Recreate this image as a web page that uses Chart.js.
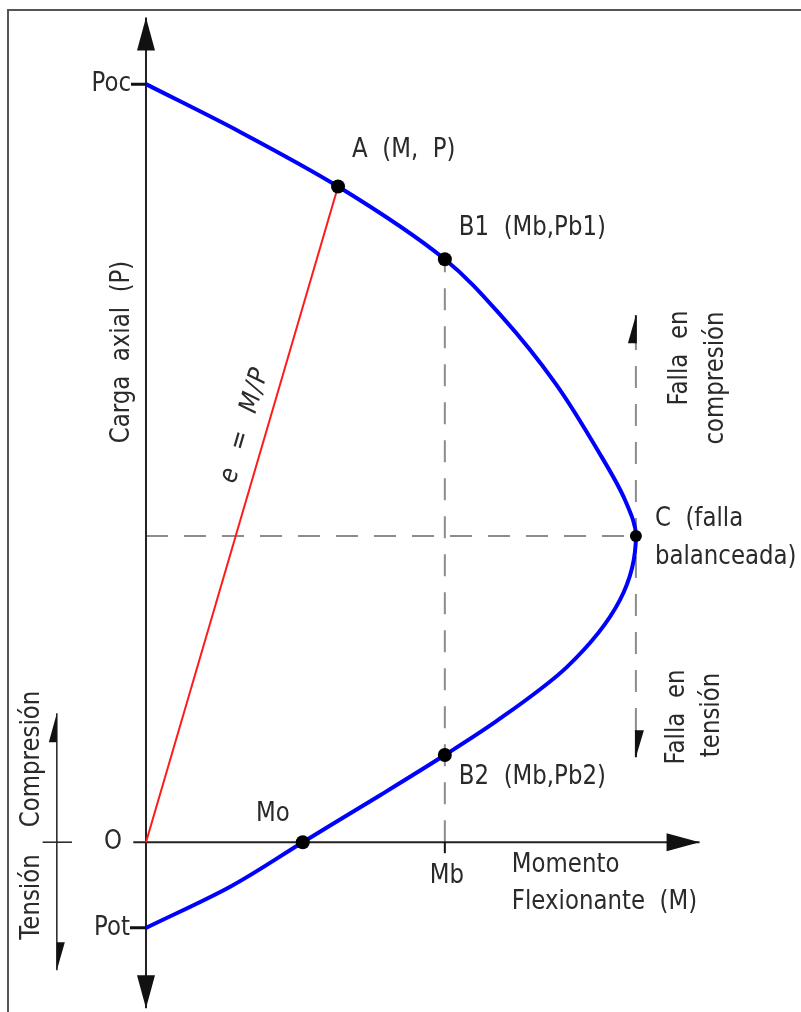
<!DOCTYPE html>
<html>
<head>
<meta charset="utf-8">
<title>Diagrama de interacción</title>
<script src="https://cdn.jsdelivr.net/npm/chart.js@4"></script>
<style>
  html, body { margin: 0; padding: 0; background: #fff; }
  #wrap { position: relative; width: 801px; height: 1012px; overflow: hidden; }
  #frame { position: absolute; left: 7px; top: 9px; right: 0; bottom: 0; border-left: 2px solid #555; border-top: 2px solid #555; pointer-events: none; }
</style>
</head>
<body>
<div id="wrap">
  <canvas id="chart"></canvas>
  <div id="frame"></div>
</div>
<script>
// interaction curve: from Poc down through the balanced point to Pot
const curveM = [0, 19.2, 39.2, 61, 72.7, 83.5, 92.2, 97.8, 100, 96.7, 85.9, 71.6, 61, 47.8, 32, 17.1, 0]
const curveP = [100, 93.7, 86.5, 76.9, 69.3, 60.6, 51.7, 45.1, 40.4, 31.9, 23.1, 16.0, 11.5, 6.2, 0, -5.9, -11.3]

// marked points on the curve
const pointNames = ['A', 'B1', 'C', 'B2', 'Mo']
const pointM = [39.2, 61, 100, 61, 32]
const pointP = [86.5, 76.9, 40.4, 11.5, 0]

const Poc = 100, Pot = -11.3
const Mb = 61, Pb1 = 76.9
const Mc = 100, Pc = 40.4

// visible window and axis extents (M, P units)
const xRange = [-29.8, 133.7]
const yRange = [-22.4, 111.1]
const axisM = [-2.6, 113]
const axisP = [-21.9, 108.8]
const fallaP = [69.5, 65.8, 14.8, 11.2]   // arrow tip, dash start, dash end, arrow tip
const signM = -18.2, signP = [17.0, -16.9], signTick = [-21.1, -15.1]

const pts = (ms, ps) => ms.map((m, i) => ({ x: m, y: ps[i] }))

function arrow(ctx, tx, ty, dx, dy, len, hp, hm) {
  // tip at (tx,ty), pointing along (dx,dy); hp/hm = half widths on each side
  const bx = tx - dx * len, by = ty - dy * len
  const nx = -dy, ny = dx
  ctx.beginPath()
  ctx.moveTo(tx, ty)
  ctx.lineTo(bx + nx * hp, by + ny * hp)
  ctx.lineTo(bx - nx * hm, by - ny * hm)
  ctx.closePath()
  ctx.fill()
}

function text(ctx, s, x, y, align, rot, italic) {
  ctx.save()
  ctx.translate(x, y)
  if (rot) ctx.rotate(rot)
  ctx.scale(0.88, 1)
  ctx.font = (italic ? 'italic ' : '') + '26px "DejaVu Sans"'
  ctx.textAlign = align
  ctx.textBaseline = 'middle'
  ctx.fillText(s, 0, 0)
  ctx.restore()
}

const decor = {
  id: 'decor',
  afterDatasetsDraw(chart) {
    const ctx = chart.ctx, sx = chart.scales.x, sy = chart.scales.y
    const X = m => sx.getPixelForValue(m), Y = p => sy.getPixelForValue(p)
    const x0 = X(0), y0 = Y(0)
    ctx.save()
    ctx.fillStyle = '#111'
    ctx.strokeStyle = '#111'

    // main axis arrows
    arrow(ctx, x0, Y(axisP[1]), 0, -1, 33, 9, 9)
    arrow(ctx, x0, Y(axisP[0]), 0, 1, 33, 9, 9)
    arrow(ctx, X(axisM[1]), y0, 1, 0, 33, 9, 9)

    // half arrows on the failure-zone line and the sign indicator
    arrow(ctx, X(Mc), Y(fallaP[0]), 0, -1, 28, 0, 8)
    arrow(ctx, X(Mc), Y(fallaP[3]), 0, 1, 27, 0, 8)
    arrow(ctx, X(signM), Y(signP[0]), 0, -1, 29, 0, 8)
    arrow(ctx, X(signM), Y(signP[1]), 0, 1, 28, 0, 8)
    ctx.lineWidth = 2
    ctx.beginPath()
    ctx.moveTo(X(Mc), Y(fallaP[0])); ctx.lineTo(X(Mc), Y(fallaP[1]))
    ctx.moveTo(X(Mc), Y(fallaP[2])); ctx.lineTo(X(Mc), Y(fallaP[3]))
    ctx.stroke()

    // ticks on the axes
    ctx.lineWidth = 3
    ctx.beginPath()
    ctx.moveTo(x0 - 15, Y(Poc)); ctx.lineTo(x0, Y(Poc))
    ctx.moveTo(x0 - 16, Y(Pot)); ctx.lineTo(x0, Y(Pot))
    ctx.stroke()
    ctx.lineWidth = 2
    ctx.beginPath()
    ctx.moveTo(X(Mb), y0); ctx.lineTo(X(Mb), y0 + 11)
    ctx.stroke()

    ctx.fillStyle = '#2a2a2a'
    const up = -Math.PI / 2
    text(ctx, 'Poc', x0 - 15, Y(Poc), 'right')
    text(ctx, 'Pot', x0 - 16, Y(Pot), 'right')
    text(ctx, 'O', x0 - 24, y0, 'right')
    text(ctx, 'Mb', X(Mb) + 2, y0 + 34, 'center')
    text(ctx, 'Mo', X(pointM[4]) - 30, Y(pointP[4]) - 28, 'center')
    text(ctx, 'A  (M,  P)', X(pointM[0]) + 14, Y(pointP[0]) - 36, 'left')
    text(ctx, 'B1  (Mb,Pb1)', X(pointM[1]) + 14, Y(pointP[1]) - 31, 'left')
    text(ctx, 'B2  (Mb,Pb2)', X(pointM[3]) + 14, Y(pointP[3]) + 22, 'left')
    text(ctx, 'C  (falla', X(Mc) + 19, Y(Pc) - 17, 'left')
    text(ctx, 'balanceada)', X(Mc) + 19, Y(Pc) + 21, 'left')
    text(ctx, 'Momento', X(Mb) + 67, y0 + 23, 'left')
    text(ctx, 'Flexionante  (M)', X(Mb) + 67, y0 + 60, 'left')
    text(ctx, 'Carga  axial  (P)', x0 - 24, 352, 'center', up)
    text(ctx, 'Falla  en', X(Mc) + 44, 358, 'center', up)
    text(ctx, 'compresión', X(Mc) + 80, 378, 'center', up)
    text(ctx, 'Falla  en', X(Mc) + 41, 717, 'center', up)
    text(ctx, 'tensión', X(Mc) + 76, 715, 'center', up)
    text(ctx, 'Compresión', X(signM) - 25, 759, 'center', up)
    text(ctx, 'Tensión', X(signM) - 25, 897, 'center', up)

    // eccentricity label along the line O-A
    const ang = Math.atan2(Y(pointP[0]) - y0, X(pointM[0]) - x0)
    ctx.save()
    ctx.letterSpacing = '2px'
    text(ctx, 'e  =  M/P', 245, 425, 'center', ang, true)
    ctx.restore()
    ctx.restore()
  }
}

new Chart(document.getElementById('chart'), {
  type: 'scatter',
  data: {
    datasets: [
      { data: pts(pointM, pointP), pointRadius: [7, 7, 6, 7, 7], pointBackgroundColor: '#000', pointBorderWidth: 0, showLine: false },
      // P falls steadily along the curve, so interpolate M as a function of P
      { type: 'line', indexAxis: 'y', data: pts(curveM, curveP), borderColor: '#0000ff', borderWidth: 4, cubicInterpolationMode: 'monotone', fill: false, pointRadius: 0 },
      { data: [{ x: 0, y: 0 }, { x: pointM[0], y: pointP[0] }], showLine: true, borderColor: '#ff1a1a', borderWidth: 2, pointRadius: 0 },
      { data: [{ x: 0, y: axisP[0] }, { x: 0, y: axisP[1] }], showLine: true, borderColor: '#222', borderWidth: 2, pointRadius: 0 },
      { data: [{ x: axisM[0], y: 0 }, { x: axisM[1], y: 0 }], showLine: true, borderColor: '#222', borderWidth: 2, pointRadius: 0 },
      { data: [{ x: signM, y: signP[0] }, { x: signM, y: signP[1] }], showLine: true, borderColor: '#222', borderWidth: 1.5, pointRadius: 0 },
      { data: [{ x: signTick[0], y: 0 }, { x: signTick[1], y: 0 }], showLine: true, borderColor: '#222', borderWidth: 1.5, pointRadius: 0 },
      { data: [{ x: 0, y: Pc }, { x: Mc, y: Pc }], showLine: true, borderColor: '#8c8c8c', borderWidth: 2, borderDash: [22, 16], pointRadius: 0 },
      { data: [{ x: Mb, y: 0 }, { x: Mb, y: Pb1 }], showLine: true, borderColor: '#8c8c8c', borderWidth: 2, borderDash: [22, 16], pointRadius: 0 },
      { data: [{ x: Mc, y: fallaP[2] }, { x: Mc, y: fallaP[1] }], showLine: true, borderColor: '#8c8c8c', borderWidth: 2, borderDash: [22, 16], pointRadius: 0 }
    ]
  },
  options: {
    responsive: true,
    maintainAspectRatio: false,
    animation: false,
    layout: { padding: 0, autoPadding: false },
    plugins: { legend: { display: false }, tooltip: { enabled: false } },
    scales: {
      x: { type: 'linear', display: false, min: xRange[0], max: xRange[1] },
      y: { type: 'linear', display: false, min: yRange[0], max: yRange[1] }
    }
  },
  plugins: [decor]
})
</script>
</body>
</html>
